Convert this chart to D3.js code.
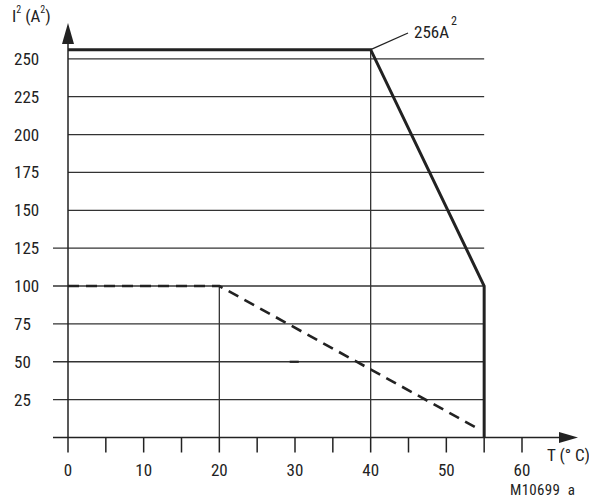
<!DOCTYPE html>
<html><head><meta charset="utf-8">
<script src="https://cdn.jsdelivr.net/npm/d3@7"></script>
<style>body{margin:0;background:#fff}text{font-family:"Liberation Sans Narrow","Roboto Condensed","Liberation Sans",sans-serif;fill:#222}</style>
</head><body><svg id="c" width="589" height="499"></svg>
<script>
const xTicks = [0,10,20,30,40,50,60];
const xMinorTicks = [0,5,10,15,20,25,30,35,40,45,50,55,60];
const yTicks = [25,50,75,100,125,150,175,200,225,250];
const limitCurve = [[0,256],[40,256],[55,100],[55,0]];
const dashedCurve = [[0,100],[20,100],[54.5,5]];
const vLines = [[20,100],[40,256]];
const smallMark = [[29.3,50],[30.5,50]];
const peakLabel = "256A";

const svg = d3.select("#c");
const x = d3.scaleLinear().domain([0,60]).range([68,522]);
const y = d3.scaleLinear().domain([0,250]).range([437.5,58.8]);
const col = "#222";

// gridlines
yTicks.forEach(v=>{
  svg.append("line").attr("x1", v>=150 ? x(0) : 53).attr("x2", x(55))
    .attr("y1", y(v)).attr("y2", y(v)).attr("stroke","#333").attr("stroke-width",1.3);
  svg.append("text").attr("x",14).attr("y",y(v)+6).attr("font-size",17).text(v);
});
// vertical thin lines
vLines.forEach(d=>{
  svg.append("line").attr("x1",x(d[0])).attr("x2",x(d[0])).attr("y1",y(0)).attr("y2",y(d[1]))
    .attr("stroke","#333").attr("stroke-width",1.3);
});
// x axis
svg.append("line").attr("x1",53).attr("x2",565).attr("y1",y(0)).attr("y2",y(0)).attr("stroke",col).attr("stroke-width",1.5);
svg.append("path").attr("d",`M559,${y(0)-5.5}L578,${y(0)}L559,${y(0)+5.5}Z`).attr("fill",col);
xMinorTicks.forEach(v=>{
  svg.append("line").attr("x1",x(v)).attr("x2",x(v)).attr("y1",y(0)).attr("y2",y(0)+15).attr("stroke",col).attr("stroke-width",1.5);
});
xTicks.forEach(v=>{
  svg.append("text").attr("x",x(v)).attr("y",476).attr("text-anchor","middle").attr("font-size",17).text(v);
});
// y axis
svg.append("line").attr("x1",x(0)).attr("x2",x(0)).attr("y1",y(0)).attr("y2",38).attr("stroke",col).attr("stroke-width",1.5);
svg.append("path").attr("d",`M${x(0)-6},44L${x(0)},23L${x(0)+6},44Z`).attr("fill",col);

const line = d3.line().x(d=>x(d[0])).y(d=>y(d[1]));
svg.append("path").attr("d",line(limitCurve)).attr("fill","none").attr("stroke",col).attr("stroke-width",3).attr("stroke-linejoin","miter");
svg.append("path").attr("d",line(dashedCurve)).attr("fill","none").attr("stroke",col).attr("stroke-width",2.6).attr("stroke-dasharray","11,7");
svg.append("path").attr("d",line(smallMark)).attr("fill","none").attr("stroke",col).attr("stroke-width",2.2);

// annotation
svg.append("line").attr("x1",x(40)).attr("y1",y(256)).attr("x2",408).attr("y2",33).attr("stroke",col).attr("stroke-width",1.3);
const t = svg.append("text").attr("x",414).attr("y",38).attr("font-size",17);
t.append("tspan").text(peakLabel);
t.append("tspan").attr("dy",-13).attr("dx",2).attr("font-size",12).text("2");

// axis labels
const yl = svg.append("text").attr("x",12).attr("y",22).attr("font-size",17);
yl.append("tspan").text("I");
yl.append("tspan").attr("dy",-9).attr("font-size",10).text("2");
yl.append("tspan").attr("dy",9).attr("dx",4).text("(A");
yl.append("tspan").attr("dy",-9).attr("font-size",10).text("2");
yl.append("tspan").attr("dy",9).text(")");

svg.append("text").attr("x",547).attr("y",461).attr("font-size",17).text("T (° C)");
svg.append("text").attr("x",510).attr("y",495).attr("font-size",15).attr("letter-spacing",0.3).text("M10699  a").attr("xml:space","preserve").style("white-space","pre");
</script></body></html>
